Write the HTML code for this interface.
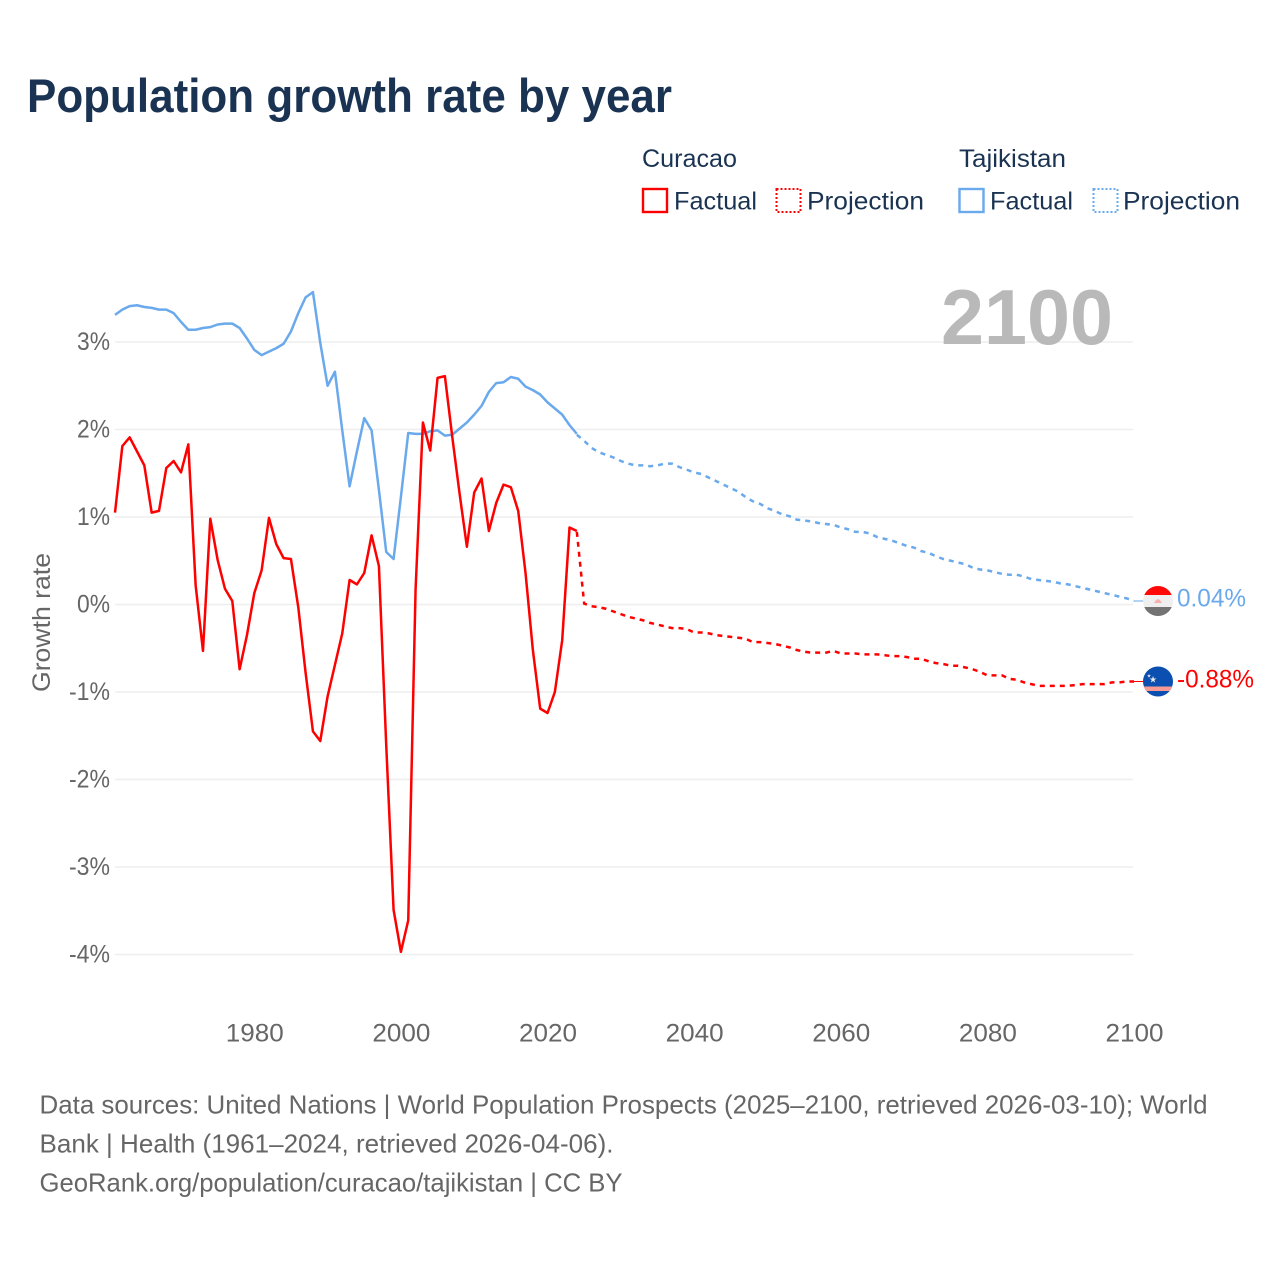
<!DOCTYPE html>
<html lang="en">
<head>
<meta charset="utf-8">
<title>Population growth rate by year</title>
<style>
html,body{margin:0;padding:0;background:#fff;}
svg{display:block;font-family:"Liberation Sans",Arial,sans-serif;}
</style>
</head>
<body>
<svg id="chart" xmlns="http://www.w3.org/2000/svg" width="1280" height="1280" viewBox="0 0 1280 1280">
  <rect x="0" y="0" width="1280" height="1280" fill="#fff"/>
  <text x="27" y="112" font-size="47" font-weight="700" fill="#1a3352" textLength="645" lengthAdjust="spacingAndGlyphs">Population growth rate by year</text>

  <g fill="#1a3352" font-size="25">
    <text x="642" y="167" textLength="95" lengthAdjust="spacingAndGlyphs">Curacao</text>
    <text x="959" y="167" textLength="107" lengthAdjust="spacingAndGlyphs">Tajikistan</text>
    <g>
      <rect x="643" y="189" width="24" height="23" fill="none" stroke="#ff0000" stroke-width="2.4"/>
      <text x="674" y="209.5" textLength="83" lengthAdjust="spacingAndGlyphs">Factual</text>
    </g>
    <g>
      <rect x="776.5" y="189" width="24" height="23" fill="none" stroke="#ff0000" stroke-width="2" stroke-dasharray="2 2"/>
      <text x="807" y="209.5" textLength="117" lengthAdjust="spacingAndGlyphs">Projection</text>
    </g>
    <g>
      <rect x="959.5" y="189" width="24" height="23" fill="none" stroke="#6aa9ec" stroke-width="2.4"/>
      <text x="990" y="209.5" textLength="83" lengthAdjust="spacingAndGlyphs">Factual</text>
    </g>
    <g>
      <rect x="1093.5" y="189" width="24" height="23" fill="none" stroke="#6aa9ec" stroke-width="2" stroke-dasharray="2 2"/>
      <text x="1123" y="209.5" textLength="117" lengthAdjust="spacingAndGlyphs">Projection</text>
    </g>
  </g>

  <g id="grid"></g>
  <g id="yticks"></g>
  <g id="xticks"></g>

  <text x="941" y="344" font-size="78" font-weight="700" fill="#b9b9b9" textLength="172" lengthAdjust="spacingAndGlyphs">2100</text>
  <text transform="translate(50,692) rotate(-90)" font-size="25" fill="#666" textLength="139" lengthAdjust="spacingAndGlyphs">Growth rate</text>

  <g id="series"></g>

  <defs>
    <clipPath id="flag-clip"><circle cx="0" cy="0" r="15"/></clipPath>
  </defs>
  <g id="flag-tajikistan">
    <g clip-path="url(#flag-clip)">
      <rect x="-15" y="-15" width="30" height="30" fill="#efefef"/>
      <rect x="-15" y="-15" width="30" height="9" fill="#ff0808"/>
      <rect x="-15" y="6" width="30" height="9" fill="#737373"/>
      <path d="M-4 2 L-2 -1 L0 -2 L2 -1 L4 2 Z" fill="#f6b0b0"/>
    </g>
  </g>
  <g id="flag-curacao">
    <g clip-path="url(#flag-clip)">
      <rect x="-15" y="-15" width="30" height="30" fill="#0b50b0"/>
      <rect x="-15" y="5" width="30" height="4.5" fill="#f79a94"/>
      <text x="-5" y="1" font-size="9" fill="#e8e8e8" text-anchor="middle" font-family="'DejaVu Sans',sans-serif">★</text>
      <text x="-9" y="-4" font-size="5" fill="#e8e8e8" text-anchor="middle" font-family="'DejaVu Sans',sans-serif">★</text>
    </g>
  </g>
  <g id="end-labels"></g>

  <g font-size="26" fill="#666">
    <text x="39.5" y="1113.5" textLength="1168" lengthAdjust="spacingAndGlyphs">Data sources: United Nations | World Population Prospects (2025–2100, retrieved 2026-03-10); World</text>
    <text x="39.5" y="1152.5" textLength="574" lengthAdjust="spacingAndGlyphs">Bank | Health (1961–2024, retrieved 2026-04-06).</text>
    <text x="39.5" y="1191.5" textLength="583" lengthAdjust="spacingAndGlyphs">GeoRank.org/population/curacao/tajikistan | CC BY</text>
  </g>
</svg>

<script>
var yTickValues = [3, 2, 1, 0, -1, -2, -3, -4];
var xTickYears = [1980, 2000, 2020, 2040, 2060, 2080, 2100];
var factualStartYear = 1961;
var projectionStartYear = 2024;

var curacaoFactual = [1.05,1.81,1.91,1.75,1.59,1.05,1.07,1.56,1.64,1.51,1.83,0.22,-0.53,0.98,0.51,0.18,0.04,-0.74,-0.35,0.13,0.39,0.99,0.69,0.53,0.52,-0.03,-0.78,-1.45,-1.56,-1.05,-0.69,-0.33,0.28,0.23,0.36,0.79,0.44,-1.61,-3.49,-3.97,-3.61,0.17,2.08,1.76,2.59,2.61,1.92,1.27,0.66,1.28,1.44,0.84,1.16,1.37,1.34,1.07,0.36,-0.52,-1.19,-1.24,-1.00,-0.41,0.88,0.84];
var curacaoProjection = [0.83,0.01,-0.02,-0.03,-0.05,-0.08,-0.11,-0.14,-0.16,-0.18,-0.21,-0.23,-0.25,-0.27,-0.27,-0.28,-0.32,-0.32,-0.33,-0.35,-0.36,-0.37,-0.38,-0.39,-0.43,-0.43,-0.44,-0.45,-0.47,-0.49,-0.52,-0.54,-0.55,-0.55,-0.55,-0.53,-0.56,-0.56,-0.56,-0.57,-0.57,-0.57,-0.58,-0.59,-0.59,-0.60,-0.62,-0.62,-0.65,-0.67,-0.68,-0.70,-0.70,-0.72,-0.74,-0.77,-0.81,-0.81,-0.81,-0.85,-0.86,-0.89,-0.91,-0.93,-0.93,-0.93,-0.93,-0.93,-0.92,-0.91,-0.91,-0.91,-0.91,-0.89,-0.89,-0.88,-0.88];
var tajikistanFactual = [3.31,3.37,3.41,3.42,3.40,3.39,3.37,3.37,3.33,3.23,3.14,3.14,3.16,3.17,3.20,3.21,3.21,3.16,3.04,2.91,2.85,2.89,2.93,2.98,3.12,3.33,3.51,3.57,2.99,2.50,2.66,1.99,1.35,1.75,2.13,1.99,1.31,0.60,0.52,1.23,1.96,1.95,1.95,1.98,1.99,1.93,1.94,2.01,2.08,2.17,2.27,2.43,2.53,2.54,2.60,2.58,2.49,2.45,2.40,2.31,2.24,2.17,2.05,1.95];
var tajikistanProjection = [1.94,1.87,1.79,1.74,1.71,1.68,1.64,1.61,1.59,1.59,1.58,1.59,1.61,1.61,1.57,1.54,1.51,1.49,1.45,1.41,1.37,1.33,1.29,1.23,1.18,1.15,1.10,1.07,1.03,1.01,0.97,0.96,0.95,0.93,0.92,0.91,0.88,0.86,0.83,0.83,0.81,0.77,0.75,0.73,0.70,0.67,0.65,0.61,0.59,0.55,0.52,0.50,0.48,0.46,0.42,0.40,0.39,0.37,0.35,0.34,0.34,0.32,0.29,0.28,0.27,0.26,0.24,0.23,0.21,0.19,0.17,0.15,0.13,0.11,0.09,0.07,0.04];

var NS = 'http://www.w3.org/2000/svg';
var RED = '#ff0000';
var BLUE = '#6aa9ec';

function xScale(year) { return 115 + (year - 1961) * (1134 - 115) / (2100 - 1961); }
function yScale(v) { return 604.5 - v * 87.5; }

function make(tag, attrs, text) {
  var el = document.createElementNS(NS, tag);
  for (var k in attrs) { el.setAttribute(k, attrs[k]); }
  if (text !== undefined) { el.textContent = text; }
  return el;
}

function pathFor(values, startYear) {
  return values.map(function (v, i) {
    return (i ? 'L' : 'M') + xScale(startYear + i).toFixed(2) + ' ' + yScale(v).toFixed(2);
  }).join(' ');
}

var grid = document.getElementById('grid');
var yticks = document.getElementById('yticks');
yTickValues.forEach(function (v) {
  var line = make('line', { x1: 115, x2: 1133, y1: yScale(v), y2: yScale(v), stroke: '#eeeeee', 'stroke-width': 1.5 });
  
  
  grid.appendChild(line);
  var label = v + '%';
  var t = make('text', { x: 110, y: yScale(v) + 8, 'text-anchor': 'end', 'font-size': 25, fill: '#666', textLength: v < 0 ? 41 : 33, lengthAdjust: 'spacingAndGlyphs' }, label);
  
  
  yticks.appendChild(t);
});

var xticks = document.getElementById('xticks');
xTickYears.forEach(function (yr) {
  var t = make('text', { x: xScale(yr) + 0.5, y: 1041.5, 'text-anchor': 'middle', 'font-size': 25, fill: '#666', textLength: 58, lengthAdjust: 'spacingAndGlyphs' }, String(yr));
  
  
  xticks.appendChild(t);
});

var series = document.getElementById('series');

var tajProjLine = make('path', { d: pathFor(tajikistanProjection, projectionStartYear), fill: 'none', stroke: BLUE, 'stroke-width': 2.5, 'stroke-dasharray': '5 5' });


series.appendChild(tajProjLine);

var tajFactLine = make('path', { d: pathFor(tajikistanFactual, factualStartYear), fill: 'none', stroke: BLUE, 'stroke-width': 2.5, 'stroke-linejoin': 'round' });


series.appendChild(tajFactLine);

var curProjLine = make('path', { d: pathFor(curacaoProjection, projectionStartYear), fill: 'none', stroke: RED, 'stroke-width': 2.5, 'stroke-dasharray': '5 5' });


series.appendChild(curProjLine);

var curFactLine = make('path', { d: pathFor(curacaoFactual, factualStartYear), fill: 'none', stroke: RED, 'stroke-width': 2.5, 'stroke-linejoin': 'round' });


series.appendChild(curFactLine);

var tajLast = tajikistanProjection[tajikistanProjection.length - 1];
var curLast = curacaoProjection[curacaoProjection.length - 1];

var tajConn = make('line', { x1: xScale(2100), x2: 1143, y1: yScale(tajLast), y2: yScale(tajLast), stroke: BLUE, 'stroke-width': 1 });


series.appendChild(tajConn);

var curConn = make('line', { x1: xScale(2100), x2: 1143, y1: yScale(curLast), y2: yScale(curLast), stroke: RED, 'stroke-width': 1 });


series.appendChild(curConn);

document.getElementById('flag-tajikistan').setAttribute('transform', 'translate(1158,' + yScale(tajLast) + ')');
document.getElementById('flag-curacao').setAttribute('transform', 'translate(1158,' + yScale(curLast) + ')');

var endLabels = document.getElementById('end-labels');
var tajEnd = make('text', { x: 1177, y: yScale(tajLast) + 5.5, 'font-size': 25, fill: BLUE, textLength: 69, lengthAdjust: 'spacingAndGlyphs' }, tajLast.toFixed(2) + '%');


endLabels.appendChild(tajEnd);

var curEnd = make('text', { x: 1177, y: yScale(curLast) + 6, 'font-size': 25, fill: RED, textLength: 77, lengthAdjust: 'spacingAndGlyphs' }, curLast.toFixed(2) + '%');


endLabels.appendChild(curEnd);
</script>
</body>
</html>
